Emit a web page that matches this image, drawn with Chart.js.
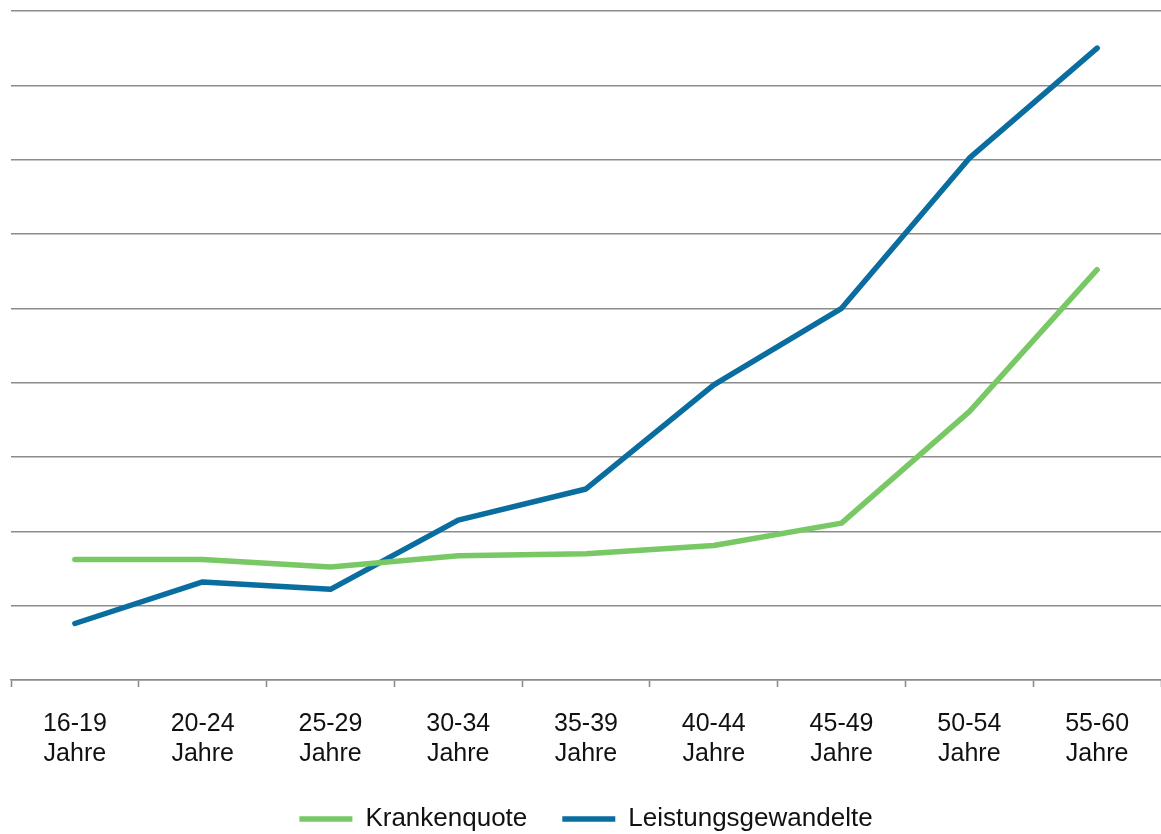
<!DOCTYPE html>
<html lang="de">
<head>
<meta charset="utf-8">
<title>Krankenquote und Leistungsgewandelte nach Altersgruppen</title>
<script src="https://cdn.jsdelivr.net/npm/chart.js@4/dist/chart.umd.min.js"></script>
<style>
  html, body { margin: 0; padding: 0; background: #ffffff; overflow: hidden; }
  #wrap { position: relative; width: 1161px; height: 842px; }
</style>
</head>
<body>
<div id="wrap"><canvas id="chart"></canvas></div>
<script>
// Altersgruppen (zweizeilige Achsenbeschriftung)
const ageGroups = [
  ['16-19', 'Jahre'], ['20-24', 'Jahre'], ['25-29', 'Jahre'],
  ['30-34', 'Jahre'], ['35-39', 'Jahre'], ['40-44', 'Jahre'],
  ['45-49', 'Jahre'], ['50-54', 'Jahre'], ['55-60', 'Jahre']
];

// Werte je Altersgruppe
const krankenquote        = [1.62, 1.62, 1.52, 1.67, 1.70, 1.81, 2.11, 3.61, 5.52];
const leistungsgewandelte = [0.76, 1.32, 1.22, 2.15, 2.57, 3.97, 5.00, 7.02, 8.50];

const seriesNames = ['Krankenquote', 'Leistungsgewandelte'];

// Wertebereich der y-Achse (ohne Beschriftung, nur Rasterlinien)
const yMin = 0;
const yMax = 9;
const yStep = 1;

const GREEN = '#78c865';
const BLUE = '#0a6d9f';
const GRID = '#8c8c8c';
const FONT = '"Liberation Sans", Arial, Helvetica, sans-serif';

new Chart(document.getElementById('chart'), {
  type: 'line',
  data: {
    labels: ageGroups,
    datasets: [
      {
        label: seriesNames[0],
        data: krankenquote,
        borderColor: GREEN,
        backgroundColor: GREEN,
        borderWidth: 5.5,
        borderCapStyle: 'round',
        borderJoinStyle: 'round',
        pointRadius: 0,
        pointHoverRadius: 0,
        tension: 0,
        fill: false
      },
      {
        label: seriesNames[1],
        data: leistungsgewandelte,
        borderColor: BLUE,
        backgroundColor: BLUE,
        borderWidth: 5.5,
        borderCapStyle: 'round',
        borderJoinStyle: 'round',
        pointRadius: 0,
        pointHoverRadius: 0,
        tension: 0,
        fill: false
      }
    ]
  },
  options: {
    responsive: true,
    maintainAspectRatio: false,
    animation: false,
    events: [],
    layout: { padding: { top: 11, left: 11, right: 0, bottom: 0 } },
    plugins: {
      tooltip: { enabled: false },
      legend: {
        position: 'bottom',
        align: 'center',
        labels: {
          usePointStyle: true,
          pointStyle: 'line',
          pointStyleWidth: 53,
          padding: 35,
          color: '#111111',
          font: { family: FONT, size: 26 }
        }
      }
    },
    scales: {
      x: {
        offset: true,
        afterFit: (scale) => { scale.height = 91; },
        grid: {
          offset: true,
          drawOnChartArea: false,
          drawTicks: true,
          tickLength: 7,
          tickColor: GRID,
          tickWidth: 1.6
        },
        border: { display: true, color: GRID, width: 1.6 },
        ticks: {
          padding: 22,
          color: '#111111',
          maxRotation: 0,
          autoSkip: false,
          font: { family: FONT, size: 25, lineHeight: 1.2 }
        }
      },
      y: {
        min: yMin,
        max: yMax,
        afterFit: (scale) => { scale.width = 0; },
        grid: {
          color: GRID,
          lineWidth: 1.6,
          drawTicks: false
        },
        border: { display: false },
        ticks: { display: false, stepSize: yStep }
      }
    }
  }
});
</script>
</body>
</html>
